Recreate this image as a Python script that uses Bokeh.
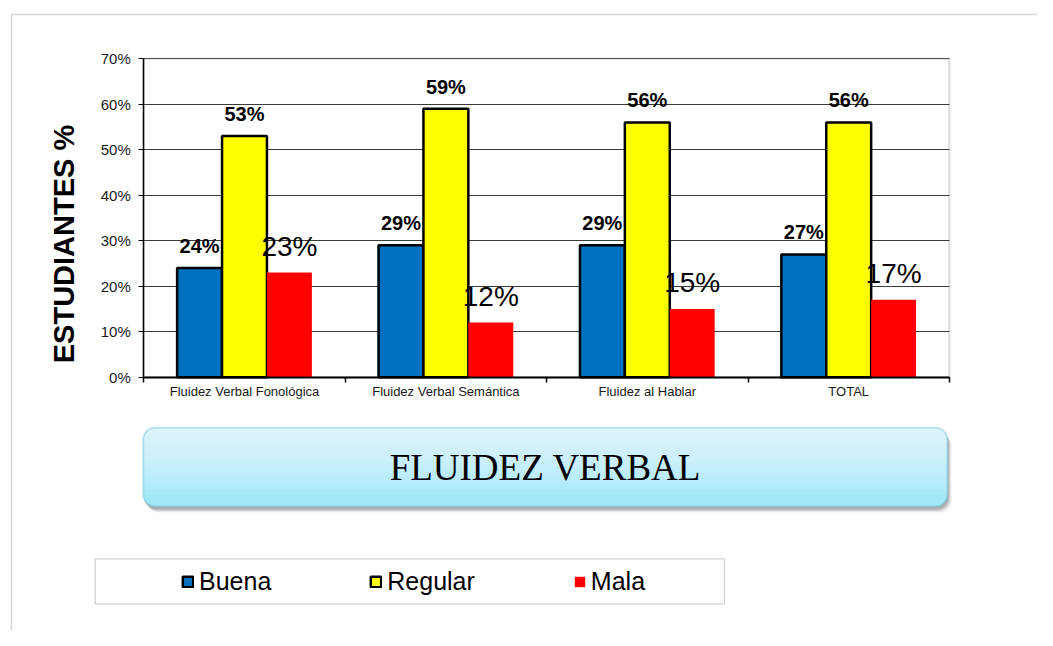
from bokeh.plotting import figure
from bokeh.models import (Range1d, FixedTicker, PrintfTickFormatter, ColumnDataSource,
                          LabelSet, Label, BoxAnnotation, Legend, LegendItem)
from bokeh.core.properties import value
from bokeh.embed import file_html
from bokeh.resources import INLINE
import math

# ---- data ----
categories = ["Fluidez Verbal Fonológica", "Fluidez Verbal Semántica", "Fluidez al Hablar", "TOTAL"]
buena = [24, 29, 29, 27]
regular = [53, 59, 56, 56]
mala = [23, 12, 15, 17]
series_names = ["Buena", "Regular", "Mala"]
y_ticks = [0, 10, 20, 30, 40, 50, 60, 70]
title_text = "FLUIDEZ VERBAL"
y_title = "ESTUDIANTES %"

FONT = "Liberation Sans"
W, H = 1037, 630
# pixel layout of the chart area inside the canvas
PX0, PX_PER_CAT = 143.3, 201.4
PY0, PY_PER_UNIT = 376.7, 4.549


def xd(px):
    return (px - PX0) / PX_PER_CAT


def yd(py):
    return (PY0 - py) / PY_PER_UNIT


n = len(categories)
BW = 0.223
centers = [i + 0.5 for i in range(n)]

p = figure(width=W, height=H, output_backend="svg", toolbar_location=None,
           x_range=Range1d(xd(0), xd(W)), y_range=Range1d(yd(H), yd(0)),
           min_border=0, min_border_left=0, min_border_right=0, min_border_top=0, min_border_bottom=0)
p.background_fill_color = "white"
p.border_fill_color = "white"
p.outline_line_color = None

# ---- outer frame ----
p.add_layout(BoxAnnotation(left=xd(11), right=xd(1200), top=yd(14), bottom=yd(800),
                           fill_alpha=0, line_color="#767676", line_width=1.5, level="underlay"))

# ---- chart area outline ----
p.add_layout(BoxAnnotation(left=0, right=n, bottom=0, top=70, fill_alpha=0,
                           line_color="#8c8c8c", line_width=2.2, level="underlay"))

# grid
p.xgrid.grid_line_color = None
p.ygrid.grid_line_color = "#3a3a3a"
p.ygrid.grid_line_width = 1
p.ygrid.bounds = (0, 70)
p.ygrid.cross_bounds = (0, n)

# y axis (fixed inside the canvas)
p.yaxis.fixed_location = 0
p.yaxis.bounds = (0, 70)
p.yaxis.ticker = FixedTicker(ticks=y_ticks)
p.yaxis.formatter = PrintfTickFormatter(format="%d%%")
p.yaxis.major_tick_in = 0
p.yaxis.major_tick_out = 5
p.yaxis.minor_tick_line_color = None
p.yaxis.axis_line_color = "black"
p.yaxis.axis_line_width = 1.5
p.yaxis.major_tick_line_color = "black"
p.yaxis.major_label_text_font = FONT
p.yaxis.major_label_text_font_size = "15px"
p.yaxis.major_label_text_color = "#1a1a1a"
p.yaxis.major_label_standoff = 8

# x axis: labels at centers, ticks at boundaries (minor)
p.xaxis.fixed_location = 0
p.xaxis.bounds = (0, n)
p.xaxis.ticker = FixedTicker(ticks=centers, minor_ticks=list(range(n + 1)))
p.xaxis.major_label_overrides = {c: lab for c, lab in zip(centers, categories)}
p.xaxis.major_tick_in = 0
p.xaxis.major_tick_out = 0
p.xaxis.minor_tick_in = 0
p.xaxis.minor_tick_out = 5
p.xaxis.minor_tick_line_color = "black"
p.xaxis.minor_tick_line_width = 1.5
p.xaxis.axis_line_color = "black"
p.xaxis.axis_line_width = 2
p.xaxis.major_label_text_font = FONT
p.xaxis.major_label_text_font_size = "13px"
p.xaxis.major_label_text_color = "#1a1a1a"
p.xaxis.major_label_standoff = 2

# bars
src_b = ColumnDataSource(dict(x=[c - BW for c in centers], y=buena, t=[f"{v}%" for v in buena]))
src_r = ColumnDataSource(dict(x=centers, y=regular, t=[f"{v}%" for v in regular]))
src_m = ColumnDataSource(dict(x=[c + BW for c in centers], y=mala, t=[f"{v}%" for v in mala]))

rb = p.vbar(x="x", top="y", width=BW, source=src_b, fill_color="#0070C0", line_color="black", line_width=2.5)
rr = p.vbar(x="x", top="y", width=BW, source=src_r, fill_color="#FFFF00", line_color="black", line_width=2.5)
rm = p.vbar(x="x", top="y", width=BW, source=src_m, fill_color="#FF0000", line_color=None)

# value labels
for src, bold, size, off in [(src_b, True, "20px", 15), (src_r, True, "20px", 15), (src_m, False, "28px", 17)]:
    p.add_layout(LabelSet(x="x", y="y", text="t", source=src, text_align="center", text_baseline="alphabetic",
                          y_offset=off, text_font=value(FONT),
                          text_font_style="bold" if bold else "normal",
                          text_font_size=size, text_color="black"))

# y title
p.add_layout(Label(x=xd(63), y=yd(243.5), text=y_title, angle=math.pi / 2, text_align="center",
                   text_baseline="middle", text_font=FONT, text_font_style="bold",
                   text_font_size="29px", text_color="black"))

# ---- title box: shadow, base, gradient overlays, border ----
bl, br, bt, bb = xd(142.7), xd(947), yd(427.3), yd(506)
for dx, dy, a in [(4, 6, 0.06), (3, 5, 0.08), (2, 4, 0.10), (1, 3, 0.10)]:
    p.add_layout(BoxAnnotation(left=xd(142.7 + dx), right=xd(947 + dx), top=yd(427.3 + dy), bottom=yd(506 + dy),
                               fill_color="black", fill_alpha=a, line_alpha=0, border_radius=12))
p.add_layout(BoxAnnotation(left=bl, right=br, top=bt, bottom=bb, fill_color="#A3E7FB", fill_alpha=1,
                           line_alpha=0, border_radius=12))
N = 12
for i in range(N):
    ypx = 427.3 + (506 - 427.3) * 0.85 * (i + 1) / N
    p.add_layout(BoxAnnotation(left=bl, right=br, top=bt, bottom=yd(ypx), fill_color="white", fill_alpha=0.085,
                               line_alpha=0, border_radius=(12, 12, 0, 0)))
p.add_layout(BoxAnnotation(left=bl, right=br, top=bt, bottom=bb, fill_alpha=0, line_color="#4BACC6",
                           line_width=2, border_radius=12))
p.add_layout(Label(x=(bl + br) / 2, y=(bt + bb) / 2, text=title_text, text_align="center",
                   text_baseline="middle", text_font="Liberation Serif", text_font_size="37px",
                   text_color="black"))

# ---- legend box and legend ----
p.add_layout(BoxAnnotation(left=xd(94.7), right=xd(724), top=yd(558.3), bottom=yd(603.3), fill_color="white",
                           fill_alpha=1, line_color="#666666", line_width=1.3))
legend = Legend(items=[LegendItem(label=series_names[0], renderers=[rb]),
                       LegendItem(label=series_names[1], renderers=[rr]),
                       LegendItem(label=series_names[2], renderers=[rm])],
                orientation="horizontal", location=(181, H - 595.5), glyph_width=13, glyph_height=13,
                label_standoff=5, spacing=98, padding=0, margin=0, border_line_alpha=0,
                background_fill_alpha=0, label_text_font=FONT, label_text_font_size="25px",
                label_text_color="black")
p.add_layout(legend, "center")

open("out.html", "w").write(file_html(p, INLINE))
